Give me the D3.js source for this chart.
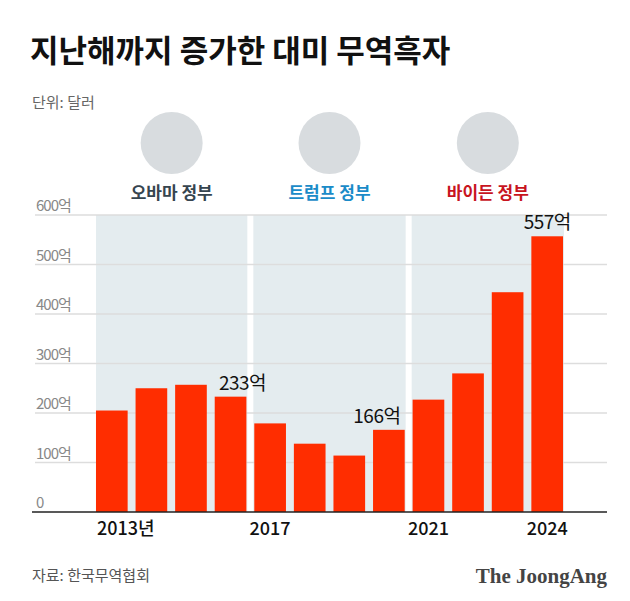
<!DOCTYPE html>
<html><head><meta charset="utf-8">
<script src="https://cdn.jsdelivr.net/npm/d3@7"></script>
<style>
body{margin:0;background:#fff;font-family:"Noto Sans CJK KR","Noto Sans",sans-serif;}
</style></head>
<body><div id="chart"></div>
<script>
const years = [2013,2014,2015,2016,2017,2018,2019,2020,2021,2022,2023,2024];
const surplus = [205,250,257,233,179,138,114,166,227,280,444,557];
const yTicks = [0,100,200,300,400,500,600];
const xLabels = {2013:"2013년",2017:"2017",2021:"2021",2024:"2024"};
const valueLabels = {2016:"233억",2020:"166억",2024:"557억"};
const eras = [
  {name:"오바마 정부", from:2013, to:2016, color:"#36454f"},
  {name:"트럼프 정부", from:2017, to:2020, color:"#1b8bc8"},
  {name:"바이든 정부", from:2021, to:2024, color:"#c8141e"}
];

const W = 630, H = 601;
const margin = {top:215, left:94, right:65, bottom:89};
const svg = d3.select("#chart").append("svg").attr("width",W).attr("height",H);

const x = d3.scaleBand().domain(years).range([margin.left, W-margin.right]).paddingInner(0.2).paddingOuter(0.05);
const y = d3.scaleLinear().domain([0,600]).range([H-margin.bottom, margin.top]);

// title
svg.append("text").attr("x",30).attr("y",62).attr("font-size",31).attr("font-weight",700)
  .attr("fill","#111").text("지난해까지 증가한 대미 무역흑자");
svg.append("text").attr("x",32).attr("y",108).attr("font-size",15).attr("fill","#666").text("단위: 달러");

// era bands
const step = x.step(), gap = step - x.bandwidth();
eras.forEach((e,i) => {
  const x0 = x(e.from) - gap/2 + (i===0 ? gap/2 : 3);
  const x1 = x(e.to) + x.bandwidth() + gap/2 - 3;
  svg.append("rect").attr("x",x0).attr("y",y(600)).attr("width",x1-x0).attr("height",y(0)-y(600))
    .attr("fill","#e4ecef");
  const cx = (x0+x1)/2;
  svg.append("circle").attr("cx",cx).attr("cy",143).attr("r",31).attr("fill","#d8dcdf");
  svg.append("text").attr("x",cx).attr("y",199).attr("text-anchor","middle")
    .attr("font-size",17).attr("font-weight",700).attr("fill",e.color).text(e.name);
});

// grid
svg.selectAll(".grid").data(yTicks.filter(d=>d>0)).enter().append("line")
  .attr("x1",35).attr("x2",607).attr("y1",d=>y(d)).attr("y2",d=>y(d))
  .attr("stroke","#ddd").attr("stroke-width",1.5);
svg.selectAll(".ytick").data(yTicks).enter().append("text")
  .attr("x",36).attr("y",d=>y(d)-4).attr("font-size",15).attr("fill","#888").attr("letter-spacing",-1)
  .text(d=>d===0?"0":d+"억");

// bars
svg.selectAll(".bar").data(years).enter().append("rect")
  .attr("x",d=>x(d)).attr("width",x.bandwidth())
  .attr("y",(d,i)=>y(surplus[i])).attr("height",(d,i)=>y(0)-y(surplus[i]))
  .attr("fill","#ff2d00");

// value labels
const labelShift = {2016:12, 2020:-12, 2024:0};
years.forEach((d,i) => {
  if (!valueLabels[d]) return;
  svg.append("text").attr("x",x(d)+x.bandwidth()/2+labelShift[d]).attr("y",y(surplus[i])-7)
    .attr("text-anchor","middle").attr("font-size",19).attr("letter-spacing",-0.5).attr("fill","#111").text(valueLabels[d]);
});

// baseline + x labels
svg.append("line").attr("x1",32).attr("x2",607).attr("y1",y(0)).attr("y2",y(0)).attr("stroke","#222").attr("stroke-width",1.5);
years.forEach(d => {
  if (!xLabels[d]) return;
  svg.append("text").attr("x",x(d)+x.bandwidth()/2 + (d===2013?14:0)).attr("y",y(0)+23)
    .attr("text-anchor","middle").attr("font-size",18).attr("font-weight",500).attr("fill","#111").text(xLabels[d]);
});

// footer
svg.append("text").attr("x",32).attr("y",581).attr("font-size",15).attr("fill","#555").text("자료: 한국무역협회");
svg.append("text").attr("x",607).attr("y",583).attr("text-anchor","end").attr("font-size",21)
  .attr("font-weight",700).attr("font-family","'Liberation Serif',serif").attr("fill","#444").text("The JoongAng");
</script></body></html>
